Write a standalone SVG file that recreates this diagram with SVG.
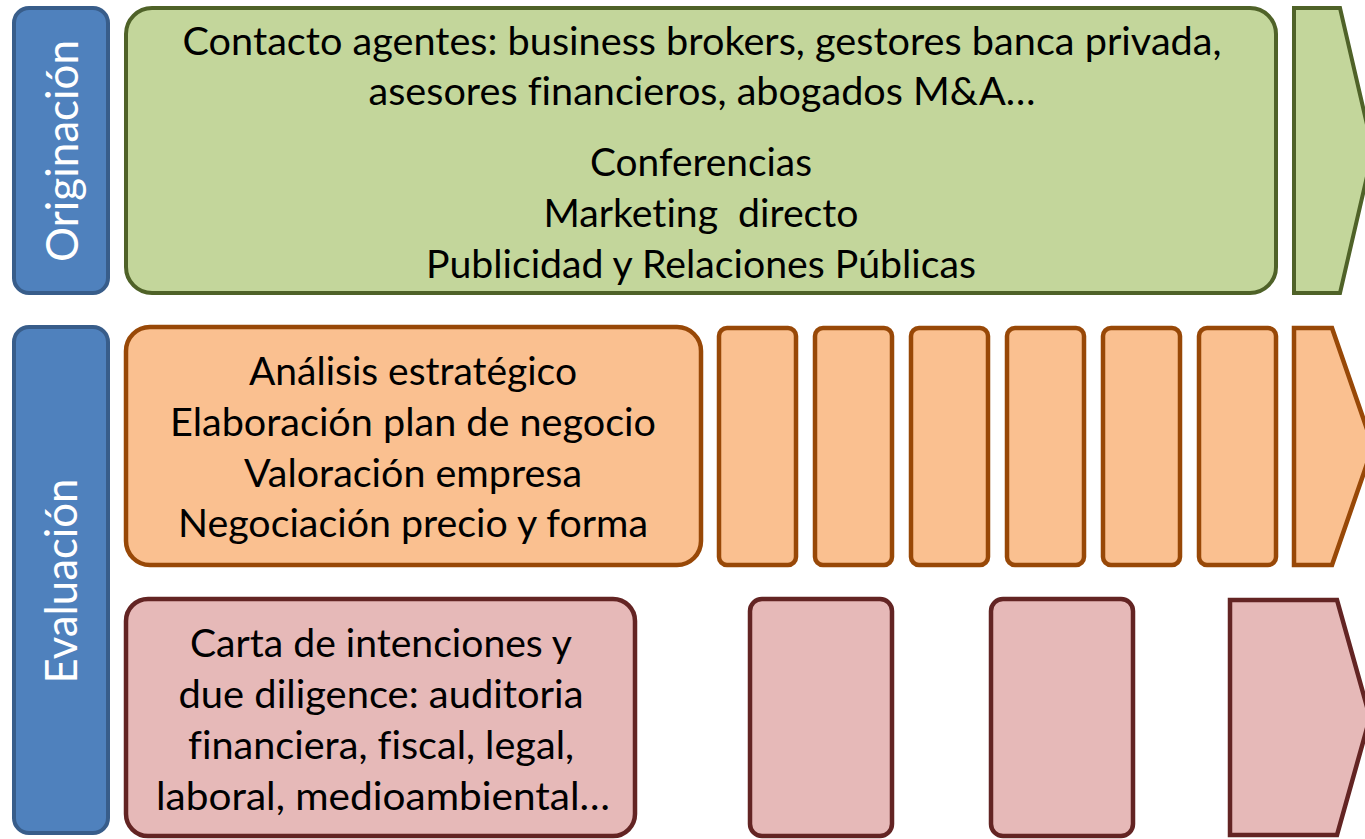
<svg xmlns="http://www.w3.org/2000/svg" width="1365" height="839" viewBox="0 0 1365 839">
  <style>
    .t { font-family: Lato, "Open Sans", "Liberation Sans", sans-serif; font-size: 39px; fill: #000; text-anchor: middle; font-variant-ligatures: none; font-feature-settings: "liga" 0, "dlig" 0; }
    .lbl { font-family: Lato, "Open Sans", "Liberation Sans", sans-serif; font-size: 44px; fill: #fff; text-anchor: middle; font-variant-ligatures: none; }
    .blue { fill: #4f81bd; stroke: #385d8a; stroke-width: 4; }
    .green { fill: #c3d69b; stroke: #4f6228; stroke-width: 4; stroke-linejoin: miter; }
    .orange { fill: #fac090; stroke: #984807; stroke-width: 4.5; stroke-linejoin: miter; }
    .pink { fill: #e6b9b8; stroke: #632423; stroke-width: 4.5; stroke-linejoin: miter; }
  </style>
  <rect width="1365" height="839" fill="#ffffff"/>

  <g id="label-originacion">
    <rect class="blue" x="14" y="8" width="94" height="285" rx="15"/>
    <text class="lbl" transform="translate(78,151) rotate(-90)" textLength="222" lengthAdjust="spacingAndGlyphs">Originación</text>
  </g>

  <g id="label-evaluacion">
    <rect class="blue" x="14" y="327" width="94" height="506" rx="15"/>
    <text class="lbl" transform="translate(77,581) rotate(-90)" textLength="205" lengthAdjust="spacingAndGlyphs">Evaluación</text>
  </g>

  <g id="originacion-main">
    <rect class="green" x="126" y="8" width="1150" height="285" rx="26"/>
    <text class="t" x="702" y="55" textLength="1039" lengthAdjust="spacingAndGlyphs">Contacto agentes: business brokers, gestores banca privada,</text>
    <text class="t" x="702" y="105" textLength="667" lengthAdjust="spacingAndGlyphs">asesores financieros, abogados M&amp;A…</text>
    <text class="t" x="701" y="176" textLength="222" lengthAdjust="spacingAndGlyphs">Conferencias</text>
    <text class="t" x="701" y="227" xml:space="preserve" textLength="315" lengthAdjust="spacingAndGlyphs">Marketing  directo</text>
    <text class="t" x="701" y="278" textLength="550" lengthAdjust="spacingAndGlyphs">Publicidad y Relaciones Públicas</text>
  </g>

  <g id="originacion-arrow">
    <polygon class="green" points="1294,8 1340,8 1373,150.5 1340,293 1294,293"/>
  </g>

  <g id="evaluacion-main">
    <rect class="orange" x="126" y="327" width="575" height="238" rx="24"/>
    <text class="t" x="413" y="385" textLength="328" lengthAdjust="spacingAndGlyphs">Análisis estratégico</text>
    <text class="t" x="413" y="436" textLength="486" lengthAdjust="spacingAndGlyphs">Elaboración plan de negocio</text>
    <text class="t" x="413" y="487" textLength="338" lengthAdjust="spacingAndGlyphs">Valoración empresa</text>
    <text class="t" x="413" y="537" textLength="470" lengthAdjust="spacingAndGlyphs">Negociación precio y forma</text>
  </g>

  <g id="evaluacion-steps">
    <rect class="orange" x="719" y="328" width="77" height="237" rx="8"/>
    <rect class="orange" x="815" y="328" width="77" height="237" rx="8"/>
    <rect class="orange" x="911" y="328" width="77" height="237" rx="8"/>
    <rect class="orange" x="1007" y="328" width="77" height="237" rx="8"/>
    <rect class="orange" x="1103" y="328" width="77" height="237" rx="8"/>
    <rect class="orange" x="1199" y="328" width="77" height="237" rx="8"/>
  </g>

  <g id="evaluacion-arrow">
    <polygon class="orange" points="1294,328 1332,328 1373,446.5 1332,565 1294,565"/>
  </g>

  <g id="due-diligence-main">
    <rect class="pink" x="126" y="599" width="509" height="237" rx="22"/>
    <text class="t" x="381" y="657" textLength="382" lengthAdjust="spacingAndGlyphs">Carta de intenciones y</text>
    <text class="t" x="381" y="708" textLength="405" lengthAdjust="spacingAndGlyphs">due diligence: auditoria</text>
    <text class="t" x="381" y="759" textLength="386" lengthAdjust="spacingAndGlyphs">financiera, fiscal, legal,</text>
    <text class="t" x="383" y="810" textLength="454" lengthAdjust="spacingAndGlyphs">laboral, medioambiental…</text>
  </g>

  <g id="due-diligence-steps">
    <rect class="pink" x="750" y="599" width="142" height="237" rx="12"/>
    <rect class="pink" x="991" y="599" width="142" height="237" rx="12"/>
  </g>

  <g id="due-diligence-arrow">
    <polygon class="pink" points="1230,600 1337,600 1370,717.5 1337,835 1230,835"/>
  </g>

  <g id="connectors"/>
</svg>
